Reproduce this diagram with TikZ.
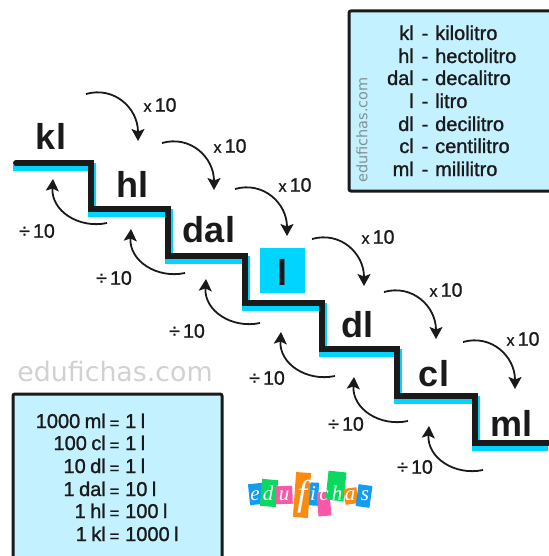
\documentclass[tikz,border=0pt]{standalone}
\usepackage{fontspec}
\setmainfont{Liberation Sans}
\newfontfamily\medfont[FakeBold=1.2,WordSpace=0.8]{Liberation Sans}
\newfontfamily\wmfont{DejaVu Sans}
\newfontfamily\logofont{Liberation Serif}
\usepackage{tikz}
\usetikzlibrary{arrows.meta}
\definecolor{stepcyan}{HTML}{00D5FF}
\definecolor{boxblue}{HTML}{C4F1FF}
\definecolor{inkblack}{HTML}{1A1A1A}
\definecolor{tagblue}{HTML}{149CF0}
\definecolor{taggreen}{HTML}{0AD85F}
\definecolor{tagpink}{HTML}{F659A8}
\definecolor{tagorange}{HTML}{FB8A10}
\tikzset{
  unit/.style={font=\bfseries\fontsize{36}{36}\selectfont,text=inkblack,inner sep=0pt},
  factor/.style={font=\medfont\fontsize{19.5}{19.5}\selectfont,text=inkblack,inner sep=0pt},
  boxline/.style={font=\medfont\fontsize{20}{20}\selectfont,text=inkblack,inner sep=0pt},
  infobox/.style={fill=boxblue,draw=inkblack,line width=3pt,rounded corners=2pt},
  hop/.style={draw=inkblack,line width=1.8pt,-{Stealth[length=12pt,width=13pt,inset=2.5pt]}},
  letter/.style={text=white,font=\logofont\itshape\fontsize{21}{21}\selectfont,inner sep=0pt,anchor=base}
}
\begin{document}
\begin{tikzpicture}[x=1pt,y=-1pt]
\useasboundingbox (0,0) rectangle (548,556);
% stairs
\foreach \xa/\xb/\ya/\yb in {16/91/163/209,91/168/209/256,168/245/256/303,245/322/303/349,322/397/349/396,397/475/396/443}{
  \fill[stepcyan] (\xa-3,\ya+2) rectangle (\xb+5,\ya+8);
  \fill[stepcyan] (\xb,\ya) rectangle (\xb+5,\yb);
}
\fill[stepcyan] (472,445) rectangle (548,451);
\draw[inkblack,line width=6pt,line join=miter,line cap=round] (16,163) -- (91,163) -- (91,209) -- (168,209) -- (168,256) -- (245,256) -- (245,303)
  -- (322,303) -- (322,349) -- (397,349) -- (397,396) -- (475,396) -- (475,443) -- (552,443);
% units
\fill[stepcyan] (260,248) rectangle (305,293);
\node[unit] (kl) at (51,136) {kl};
\node[unit] (hl) at (132,184) {hl};
\node[unit] (dal) at (209,230) {dal};
\node[unit] (l) at (282,272) {l};
\node[unit] (dl) at (357,325) {dl};
\node[unit] (cl) at (434,374) {cl};
\node[unit] (ml) at (511,423) {ml};
% x 10
\foreach \name/\px/\py/\lx/\ly in {a/86/94/160/105,b/162/143/230/146,c/235/189/295/185,d/312/239/378/237,e/384/292/446/290,f/463/342/523/339}{
  \coordinate (s\name) at (\px,\py);
  \coordinate (t\name) at (\px+52,\py+47);
  \draw[hop] (s\name) .. controls (\px+28,\py-8) and (\px+52,\py+14) .. (t\name);
  \node[factor] (m\name) at (\lx,\ly) {{\fontsize{16}{16}\selectfont x}\,10};
}
% div 10
\foreach \name/\px/\py/\lx/\ly in {a/107/223/37/231,b/185/273/114/278,c/260/323/187/331,d/335/376/267/378,e/408/421/346/424,f/483/470/415/467}{
  \coordinate (u\name) at (\px,\py);
  \coordinate (v\name) at (\px-54,\py-44);
  \draw[hop] (u\name) .. controls (\px-28,\py+6) and (\px-56,\py-12) .. (v\name);
  \node[factor] (n\name) at (\lx,\ly) {÷\,10};
}
% names box
\path[infobox] (349,11) rectangle (560,191);
\foreach \y/\ab/\word in {40/kl/kilolitro,63/hl/hectolitro,85/dal/decalitro,108/l/litro,131/dl/decilitro,153/cl/centilitro,176/ml/mililitro}{
  \node[boxline,anchor=base east] (ab\ab) at (414,\y) {\ab};
  \node[boxline,anchor=base] (dash\ab) at (425,\y) {-};
  \node[boxline,anchor=base west] (word\ab) at (435,\y) {\word};
}
\node[rotate=90,text=black!35!boxblue!60!gray,font=\wmfont\fontsize{14.5}{14.5}\selectfont,inner sep=0pt] (webside) at (362,130) {edufichas.com};
% equivalences box
\path[infobox] (13,394) rectangle (222,570);
\foreach \y/\lhs/\rhs in {428/1000 ml/1 l,450/100 cl/1 l,473/10 dl/1 l,496/1 dal/10 l,518/1 hl/100 l,541/1 kl/1000 l}{
  \node[boxline,anchor=base east] (lhs\y) at (106,\y) {\lhs};
  \node[boxline,anchor=base,font=\medfont\fontsize{17}{17}\selectfont] (eq\y) at (114.5,\y+1) {=};
  \node[boxline,anchor=base west] (rhs\y) at (125,\y) {\rhs};
}
\node[text=black!18,font=\wmfont\fontsize{26.8}{26.8}\selectfont,inner sep=0pt] (webmark) at (115,372) {edufichas.com};
% logo
\foreach \name/\cx/\cy/\tagw/\tagh/\rot/\col in {e/256/494/14/21/6/tagblue,d/269/493/16/27/-5/taggreen,u/284/495/17/18/2/tagpink,i/313/494/11/23/-3/tagblue,c/324/504/13/24/5/tagpink,h/336/486/18/29/-6/taggreen,a/351/496/13/16/8/tagorange,s/364/496/14/22/-8/tagblue}{
  \node[fill=\col,minimum width=\tagw,minimum height=\tagh,rotate=\rot,inner sep=0pt] (tag\name) at (\cx,\cy) {};
}
\node[fill=tagorange,minimum width=15,minimum height=45,rotate=-4,inner sep=0pt] (tagf) at (302,495) {};
\foreach \ch/\cx in {e/255,d/268,u/284,i/313,c/324,h/337,a/350,s/365}{
  \node[letter] (let\ch) at (\cx,500) {\ch};
}
\node[letter,font=\logofont\itshape\fontsize{36}{36}\selectfont] (letf) at (302,505) {f};
\end{tikzpicture}
\end{document}
